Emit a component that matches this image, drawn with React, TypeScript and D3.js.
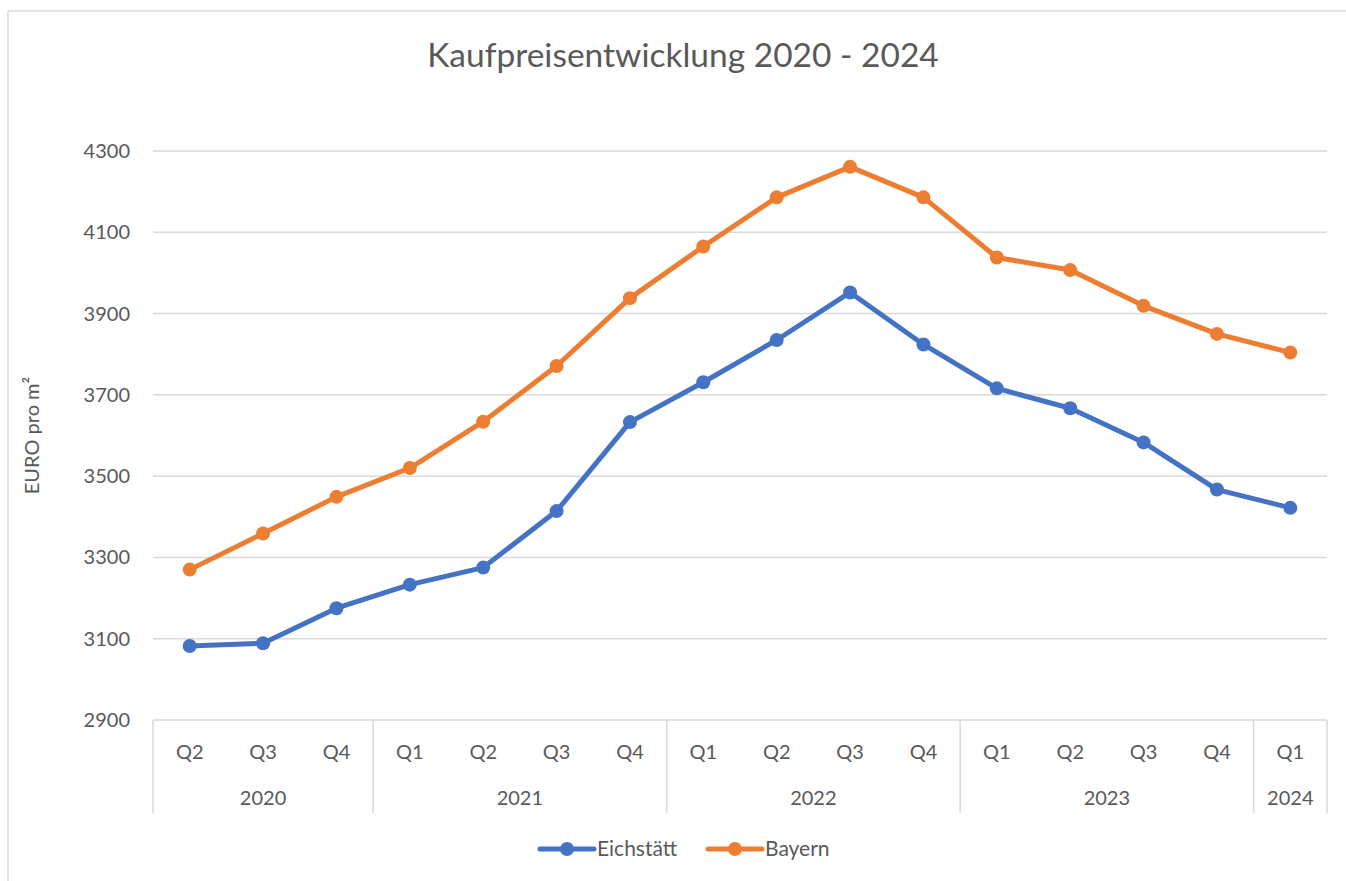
import React from 'react';
import * as d3 from 'd3';

const quarters = ['Q2', 'Q3', 'Q4', 'Q1', 'Q2', 'Q3', 'Q4', 'Q1', 'Q2', 'Q3', 'Q4', 'Q1', 'Q2', 'Q3', 'Q4', 'Q1'];
const years = ['2020', '2020', '2020', '2021', '2021', '2021', '2021', '2022', '2022', '2022', '2022', '2023', '2023', '2023', '2023', '2024'];
const eichstaett = [3082, 3089, 3175, 3233, 3275, 3414, 3633, 3731, 3835, 3952, 3824, 3716, 3667, 3583, 3467, 3422];
const bayern = [3270, 3359, 3449, 3520, 3634, 3771, 3938, 4065, 4186, 4261, 4186, 4038, 4007, 3919, 3850, 3804];
const yTicks = [2900, 3100, 3300, 3500, 3700, 3900, 4100, 4300];

const series = [
  { name: 'Eichstätt', values: eichstaett, color: '#4472C4' },
  { name: 'Bayern', values: bayern, color: '#ED7D31' },
];

const W = 1346;
const H = 881;
const left = 153;
const right = 1327;
const top = 151;
const bottom = 720;
const font = 'Lato, "Open Sans", sans-serif';
const textColor = '#595959';
const gridColor = '#d9d9d9';

export default function App() {
  const idx = quarters.map((_, i) => i);
  const x = d3.scaleBand<number>().domain(idx).range([left, right]);
  const y = d3.scaleLinear().domain([2900, 4300]).range([bottom, top]);
  const cx = (i: number) => (x(i) as number) + x.bandwidth() / 2;

  const line = d3.line<number>().x((_, i) => cx(i)).y((d) => y(d));

  // year groups for the second axis row
  const groups: { year: string; start: number; end: number }[] = [];
  years.forEach((yr, i) => {
    const g = groups[groups.length - 1];
    if (g && g.year === yr) g.end = i;
    else groups.push({ year: yr, start: i, end: i });
  });
  const edges = [left, ...groups.map((g) => (x(g.end) as number) + x.bandwidth())];

  return (
    <svg width={W} height={H} style={{ position: 'absolute', left: 0, top: 0, background: '#fff' }}>
      <line x1={8} y1={11} x2={W} y2={11} stroke={gridColor} strokeWidth={1.5} />
      <line x1={8} y1={11} x2={8} y2={H} stroke={gridColor} strokeWidth={1.5} />

      <text x={683} y={67} textAnchor="middle" fontFamily={font} fontSize={33.5} fill={textColor}>
        Kaufpreisentwicklung 2020 - 2024
      </text>

      {yTicks.map((t) => (
        <g key={t}>
          {t !== 2900 && (
            <line x1={left} x2={right} y1={y(t)} y2={y(t)} stroke={gridColor} strokeWidth={1.5} />
          )}
          <text x={130} y={y(t)} dy="0.35em" textAnchor="end" fontFamily={font} fontSize={20} fill={textColor}>
            {t}
          </text>
        </g>
      ))}

      <text
        transform={`translate(39, ${(top + bottom) / 2}) rotate(-90)`}
        textAnchor="middle"
        fontFamily={font}
        fontSize={20}
        fill={textColor}
      >
        EURO pro m²
      </text>

      {/* category axis */}
      <line x1={left} x2={right} y1={bottom} y2={bottom} stroke={gridColor} strokeWidth={1.5} />
      {edges.map((e, i) => (
        <line key={i} x1={e} x2={e} y1={bottom} y2={813} stroke={gridColor} strokeWidth={1.5} />
      ))}
      {quarters.map((q, i) => (
        <text key={i} x={cx(i)} y={759} textAnchor="middle" fontFamily={font} fontSize={20} fill={textColor}>
          {q}
        </text>
      ))}
      {groups.map((g) => (
        <text
          key={g.year}
          x={((x(g.start) as number) + (x(g.end) as number) + x.bandwidth()) / 2}
          y={805}
          textAnchor="middle"
          fontFamily={font}
          fontSize={20}
          fill={textColor}
        >
          {g.year}
        </text>
      ))}

      {series.map((s) => (
        <g key={s.name}>
          <path d={line(s.values) as string} fill="none" stroke={s.color} strokeWidth={5} strokeLinejoin="round" />
          {s.values.map((v, i) => (
            <circle key={i} cx={cx(i)} cy={y(v)} r={7} fill={s.color} />
          ))}
        </g>
      ))}

      {/* legend */}
      {series.map((s, i) => {
        const lx = i === 0 ? 540 : 708;
        return (
          <g key={s.name}>
            <line x1={lx} x2={lx + 54} y1={849} y2={849} stroke={s.color} strokeWidth={5} strokeLinecap="round" />
            <circle cx={lx + 27} cy={849} r={7} fill={s.color} />
            <text x={lx + 57} y={849} dy="0.35em" fontFamily={font} fontSize={21} fill={textColor}>
              {s.name}
            </text>
          </g>
        );
      })}
    </svg>
  );
}
